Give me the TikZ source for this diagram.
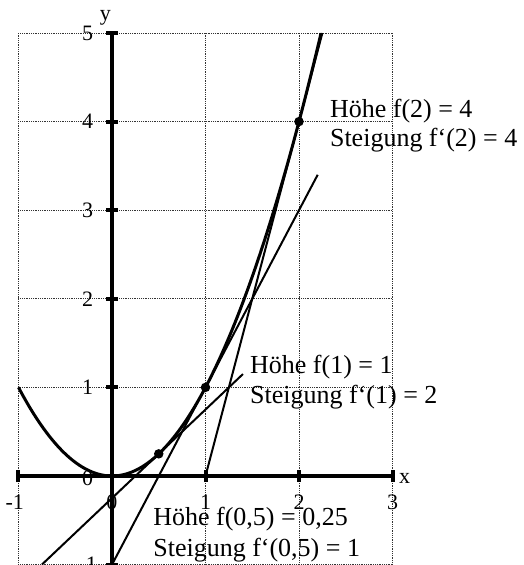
\documentclass[tikz,border=0pt]{standalone}
\usepackage{fontspec}
\setmainfont{Liberation Serif}
\begin{document}
\begin{tikzpicture}[x=93.5pt,y=88.6pt,
  gridline/.style={densely dotted, line width=0.8pt, black!80},
  axis/.style={line width=4pt},
  tickmark/.style={line width=4pt},
  curve/.style={line width=3pt},
  tangent/.style={line width=2pt},
  dot/.style={circle, fill, inner sep=0pt, minimum size=9.5pt},
  lbl/.style={font=\fontsize{26}{31}\selectfont, anchor=base west, inner sep=0pt},
  ticklbl/.style={font=\fontsize{22}{26}\selectfont, inner sep=0pt}]
\useasboundingbox (-112pt,-89pt) rectangle (411pt,476pt);
% grid
\foreach \gx in {-1,...,3} \draw[gridline] (\gx,-1) -- (\gx,5);
\foreach \gy in {-1,...,5} \draw[gridline] (-1,\gy) -- (3,\gy);
% axes
\draw[axis] (-1,0) -- (3,0);
\draw[axis] (0,-1) -- (0,5);
\foreach \t in {-1,1,2,3} \draw[tickmark] (\t,0) ++(0,-6pt) -- ++(0,12pt);
\foreach \t in {-1,1,2,3,4,5} \draw[tickmark] (0,\t) ++(-6pt,0) -- ++(12pt,0);
% tick labels
\foreach \t in {1,2,3,4,5} \node[ticklbl] (ly\t) at (-0.26,\t) {\t};
\node[ticklbl] (ly0) at (-0.26,-0.03) {0};
\node[ticklbl] (lym) at (-0.26,-1) {-1};
\node[ticklbl] (lxm) at (-1.04,-0.3) {-1};
\node[ticklbl] (lx0) at (0,-0.3) {0};
\foreach \t in {1,2,3} \node[ticklbl] (lx\t) at (\t,-0.3) {\t};
\node[ticklbl] (xname) at (3.13,-0.03) {x};
\node[ticklbl] (yname) at (-0.07,5.17) {y};
% parabola
\draw[curve] plot[domain=-1:2.236, samples=120] (\x,{\x*\x});
% tangents
\coordinate (t1a) at (-0.75,-1); \coordinate (t1b) at (1.4,1.15);
\coordinate (t2a) at (0,-1);     \coordinate (t2b) at (2.2,3.4);
\coordinate (t3a) at (1,0);      \coordinate (t3b) at (2.25,5);
\draw[tangent] (t1a) -- (t1b);
\draw[tangent] (t2a) -- (t2b);
\draw[tangent] (t3a) -- (t3b);
% points
\node[dot] (p1) at (0.5,0.25) {};
\node[dot] (p2) at (1,1) {};
\node[dot] (p3) at (2,4) {};
% labels
\node[lbl] (h2) at (2.33,4.05) {Höhe f(2) = 4};
\node[lbl] (s2) at (2.33,3.72) {Steigung f‘(2) = 4};
\node[lbl] (h1) at (1.476,1.16) {Höhe f(1) = 1};
\node[lbl] (s1) at (1.476,0.82) {Steigung f‘(1) = 2};
\node[lbl] (h05) at (0.44,-0.56) {Höhe f(0,5) = 0,25};
\node[lbl] (s05) at (0.44,-0.91) {Steigung f‘(0,5) = 1};
\end{tikzpicture}
\end{document}
